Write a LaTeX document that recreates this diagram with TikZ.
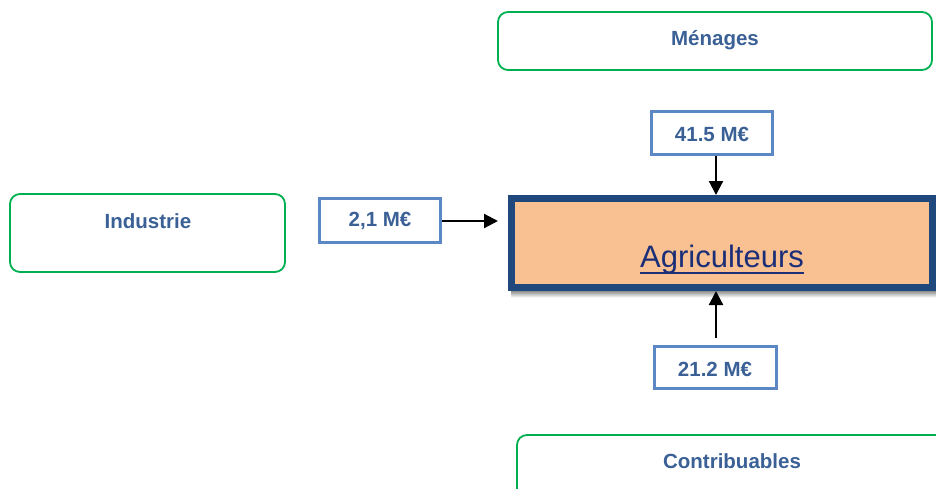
\documentclass[tikz,border=0pt]{standalone}
\usepackage{fontspec}
\setmainfont{Liberation Sans}
\usetikzlibrary{arrows.meta}
\definecolor{grn}{HTML}{00B050}
\definecolor{txtblue}{HTML}{3A6096}
\definecolor{valblue}{HTML}{5B87C4}
\definecolor{darkblue}{HTML}{1F497D}
\definecolor{peach}{HTML}{F9C191}
\definecolor{shade}{HTML}{AE8A88}
\definecolor{navy}{HTML}{1B2E78}
\tikzset{
  x=1pt, y=-1pt,
  actor/.style={draw=grn, line width=1.8pt, rounded corners=10pt},
  actortext/.style={font=\bfseries\fontsize{20.5}{23}\selectfont, text=txtblue},
  valbox/.style={draw=valblue, line width=3pt, fill=white},
  valtext/.style={font=\bfseries\fontsize{20.5}{23}\selectfont, text=txtblue},
  flow/.style={line width=2.2pt, -{Triangle[length=14pt,width=14pt]}},
}
\begin{document}
\begin{tikzpicture}
\useasboundingbox (0,0) rectangle (936,488);
\clip (0,0) rectangle (936,488);
% actors
\draw[actor] (498,12) rectangle (932,70);
\node[actortext] (menages) at (715,40) {Ménages};
\draw[actor] (10,194) rectangle (285,272);
\node[actortext] (industrie) at (148,221) {Industrie};
\draw[actor] (517,435) rectangle (960,510);
\node[actortext] (contrib) at (732,461) {Contribuables};
% main box
\fill[shade] (511,290) rectangle (936,297.5);
\draw[darkblue, line width=7pt, fill=peach] (511.5,198) rectangle (932.5,287.5);
\coordinate (agriN) at (716,195);
\coordinate (agriS) at (716,291);
\coordinate (agriW) at (498,221);
\node[font=\fontsize{31}{35}\selectfont, text=navy, inner sep=0pt, anchor=base] (agri) at (722,267) {Agriculteurs};
\draw[navy, line width=2pt] ([yshift=-6pt]agri.base west) -- ([yshift=-6pt]agri.base east);
% value boxes
\draw[valbox] (651.5,111.5) rectangle (772.5,154);
\node[valtext] (v1) at (712,134) {41.5 M€};
\coordinate (v1S) at (716,155.5);
\draw[valbox] (319.5,198.5) rectangle (440.5,242.5);
\node[valtext] (v2) at (380,221) {2,1 M€};
\coordinate (v2E) at (442,221);
\draw[valbox] (654.5,346.5) rectangle (776,388.5);
\node[valtext] (v3) at (715,369) {21.2 M€};
\coordinate (v3N) at (716,338);
% flows
\draw[flow] (v1S) -- (agriN);
\draw[flow] (v2E) -- (agriW);
\draw[flow] (v3N) -- (agriS);
\end{tikzpicture}
\end{document}
